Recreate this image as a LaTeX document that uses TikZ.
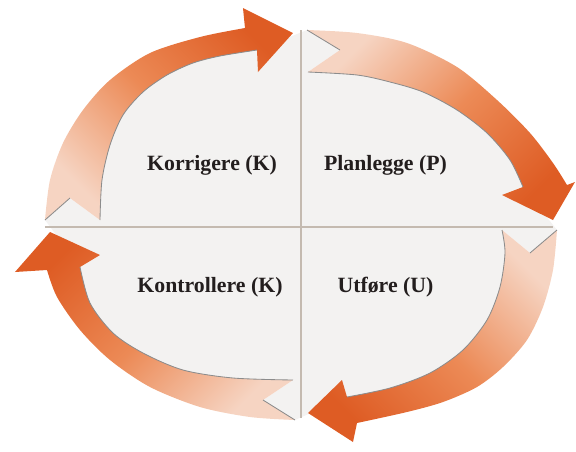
\documentclass[tikz,border=0pt]{standalone}
\usepackage{fontspec}
\setmainfont{Liberation Serif}
\usepackage{tikz}

\definecolor{pdcadark}{RGB}{222,92,36}
\definecolor{pdcamid}{RGB}{236,138,86}
\definecolor{pdcalight}{RGB}{246,212,194}
\definecolor{pdcabg}{RGB}{243,242,241}
\definecolor{pdcaline}{RGB}{196,186,176}
\definecolor{pdcatext}{RGB}{35,30,30}

\begin{document}
\begin{tikzpicture}
[line join=round,
darkup/.style={top color=pdcadark, bottom color=pdcalight, middle color=pdcamid, shading angle=#1},
lightup/.style={top color=pdcalight, bottom color=pdcadark, middle color=pdcamid, shading angle=#1},
edgeline/.style={draw=black!45, line width=0.6pt},
divider/.style={draw=pdcaline, line width=0.8pt},
phase/.style={font=\fontsize{15.5}{18}\selectfont\bfseries, text=pdcatext, inner sep=0pt}]

\useasboundingbox (-7.525,-5.6) rectangle (6.875,5.675);

% light field inside the four arrows
\fill[pdcabg] (-6.4,0.175) -- (-5.775,0.725)
  -- plot[smooth] coordinates {(-5.025,0.175) (-4.975,1.175) (-4.775,2.05) (-4.45,2.8) (-3.95,3.375) (-3.35,3.8) (-2.7,4.1) (-2.025,4.275) (-1.1,4.425)}
  -- (0.15,4.925) -- (0.975,4.425)
  -- plot[smooth] coordinates {(0.175,3.875) (1.4,3.8) (2.225,3.625) (3.05,3.375) (3.9,2.925) (4.65,2.35) (5.225,1.675) (5.55,1.0)}
  -- (6.4,-0.075) -- (5.725,-0.65)
  -- plot[smooth] coordinates {(5.025,-0.075) (5.1,-0.65) (4.975,-1.5) (4.65,-2.325) (4.05,-3.075) (3.225,-3.65) (2.225,-4.025) (1.15,-4.25)}
  -- (-0.15,-4.825) -- (-0.95,-4.325)
  -- plot[smooth] coordinates {(-0.2,-3.825) (-1.7,-3.775) (-2.95,-3.575) (-3.95,-3.15) (-4.7,-2.65) (-5.275,-1.9) (-5.525,-1.0)} -- cycle;
\draw[divider] (0,4.925) -- (0,-4.775);
\draw[divider] (-6.4,0) -- (6.3,0);

% Korrigere, left to top
\shade[darkup=-45] (-6.4,0.175) -- (-5.775,0.725) -- (-5.025,0.175)
  -- plot[smooth] coordinates {(-5.025,0.175) (-4.975,1.175) (-4.775,2.05) (-4.45,2.8) (-3.95,3.375) (-3.35,3.8) (-2.7,4.1) (-2.025,4.275) (-1.1,4.425)}
  -- (-1.075,3.875) -- (-0.2,4.85) -- (-1.45,5.475) -- (-1.4,4.975)
  -- plot[smooth] coordinates {(-1.4,4.975) (-2.525,4.75) (-3.775,4.35) (-4.775,3.675) (-5.45,2.925) (-5.95,2.1) (-6.275,1.175) (-6.4,0.175)} -- cycle;
\draw[edgeline] (-6.4,0.175) -- (-5.775,0.725);
\draw[edgeline] plot[smooth] coordinates {(-5.025,0.175) (-4.975,1.175) (-4.775,2.05) (-4.45,2.8) (-3.95,3.375) (-3.35,3.8) (-2.7,4.1) (-2.025,4.275) (-1.1,4.425)};

% Planlegge, top to right
\shade[lightup=45] (0.15,4.925) -- (0.975,4.425) -- (0.175,3.875)
  -- plot[smooth] coordinates {(0.175,3.875) (1.4,3.8) (2.225,3.625) (3.05,3.375) (3.9,2.925) (4.65,2.35) (5.225,1.675) (5.55,1.0)}
  -- (5.025,0.8) -- (6.3,0.175) -- (6.85,1.125) -- (6.65,1.05)
  -- plot[smooth] coordinates {(6.65,1.05) (6.3,1.6) (5.725,2.35) (4.9,3.175) (3.9,4.0) (2.65,4.6) (1.4,4.85) (0.15,4.925)} -- cycle;
\draw[edgeline] (0.15,4.925) -- (0.975,4.425);
\draw[edgeline] plot[smooth] coordinates {(0.175,3.875) (1.4,3.8) (2.225,3.625) (3.05,3.375) (3.9,2.925) (4.65,2.35) (5.225,1.675) (5.55,1.0)};

% Utfoere, right to bottom
\shade[lightup=-45] (6.4,-0.075) -- (5.725,-0.65) -- (5.025,-0.075)
  -- plot[smooth] coordinates {(5.025,-0.075) (5.1,-0.65) (4.975,-1.5) (4.65,-2.325) (4.05,-3.075) (3.225,-3.65) (2.225,-4.025) (1.15,-4.25)}
  -- (1.025,-3.825) -- (0.175,-4.65) -- (1.3,-5.375) -- (1.4,-4.9)
  -- plot[smooth] coordinates {(1.4,-4.9) (2.65,-4.625) (3.55,-4.375) (4.4,-4.0) (5.05,-3.5) (5.65,-2.825) (6.05,-2.0) (6.3,-1.075) (6.4,-0.075)} -- cycle;
\draw[edgeline] (6.4,-0.075) -- (5.725,-0.65);
\draw[edgeline] plot[smooth] coordinates {(5.025,-0.075) (5.1,-0.65) (4.975,-1.5) (4.65,-2.325) (4.05,-3.075) (3.225,-3.65) (2.225,-4.025) (1.15,-4.25)};

% Kontrollere, bottom to left
\shade[darkup=45] (-0.15,-4.825) -- (-0.95,-4.325) -- (-0.2,-3.825)
  -- plot[smooth] coordinates {(-0.2,-3.825) (-1.7,-3.775) (-2.95,-3.575) (-3.95,-3.15) (-4.7,-2.65) (-5.275,-1.9) (-5.525,-1.0)}
  -- (-5.025,-0.7) -- (-6.275,-0.125) -- (-7.15,-1.125) -- (-6.35,-1.075)
  -- plot[smooth] coordinates {(-6.35,-1.075) (-6.1,-1.75) (-5.525,-2.575) (-4.775,-3.325) (-3.775,-4.0) (-2.525,-4.5) (-1.275,-4.75) (-0.15,-4.825)} -- cycle;
\draw[edgeline] (-0.15,-4.825) -- (-0.95,-4.325);
\draw[edgeline] plot[smooth] coordinates {(-0.2,-3.825) (-1.7,-3.775) (-2.95,-3.575) (-3.95,-3.15) (-4.7,-2.65) (-5.275,-1.9) (-5.525,-1.0)};

\node[phase] (korrigere) at (-2.225,1.55) {Korrigere (K)};
\node[phase] (planlegge) at (2.1125,1.55) {Planlegge (P)};
\node[phase] (kontrollere) at (-2.275,-1.5) {Kontrollere (K)};
\node[phase] (utfore) at (2.1125,-1.5) {Utføre (U)};
\end{tikzpicture}
\end{document}
